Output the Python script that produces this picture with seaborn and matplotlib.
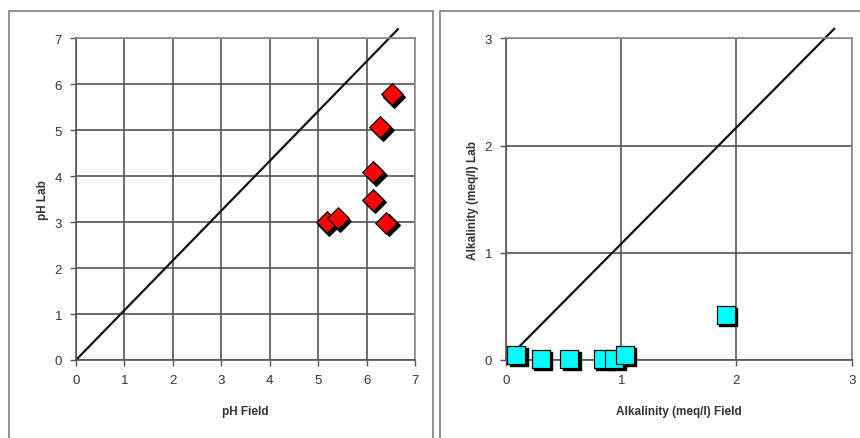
import matplotlib
matplotlib.use("Agg")
import matplotlib.pyplot as plt
import seaborn as sns
import pandas as pd
from matplotlib.patches import Rectangle
from matplotlib.transforms import ScaledTranslation

# ---- data ----
ph_field = [6.52, 6.28, 6.14, 6.13, 6.41, 5.18, 5.40]
ph_lab = [5.78, 5.06, 4.08, 3.48, 2.99, 3.00, 3.08]
ph_ticks = [0, 1, 2, 3, 4, 5, 6, 7]
ph_line_x = [0, 6.65]
ph_line_y = [0, 7.2]

alk_field = [0.09, 0.30, 0.55, 0.84, 0.94, 1.03, 1.91]
alk_lab = [0.05, 0.01, 0.01, 0.01, 0.01, 0.05, 0.42]
alk_ticks = [0, 1, 2, 3]
alk_line_x = [0, 2.85]
alk_line_y = [0, 3.09]

sns.set_style("white")
plt.rcParams['font.family'] = ['Liberation Sans', 'DejaVu Sans']

W, H = 860, 439
fig = plt.figure(figsize=(W / 100, H / 100), dpi=100, facecolor='white')

def px_axes(x0, x1, ytop, ybot):
    return fig.add_axes([x0 / W, 1 - ybot / H, (x1 - x0) / W, (ybot - ytop) / H])

ax1 = px_axes(76, 415, 39.3, 361)
ax2 = px_axes(506, 851.7, 39.3, 361)

# panel borders
for x0, x1 in [(9.3, 433.3), (440, 900)]:
    fig.add_artist(Rectangle((x0 / W, -0.1), (x1 - x0) / W, 1.1 - 11.7 / H,
                             transform=fig.transFigure, fill=False,
                             edgecolor='#888888', linewidth=1.3, zorder=0))

grid_col = '#555555'

def style(ax, ticks, xlabel, ylabel):
    ax.set_xlim(ticks[0], ticks[-1])
    ax.set_ylim(ticks[0], ticks[-1])
    ax.set_xticks(ticks)
    ax.set_yticks(ticks)
    ax.set_xticklabels([str(t) for t in ticks])
    ax.set_yticklabels([str(t) for t in ticks])
    ax.grid(True, color=grid_col, linewidth=1.2)
    ax.set_axisbelow(True)
    for s in ['top', 'right']:
        ax.spines[s].set_color('#8c8c8c')
        ax.spines[s].set_linewidth(1.2)
    for s in ['left', 'bottom']:
        ax.spines[s].set_color(grid_col)
        ax.spines[s].set_linewidth(1.2)
    ax.tick_params(axis='both', direction='out', length=4, width=1.0,
                   color=grid_col, labelsize=9.5, labelcolor='#333333', pad=6,
                   left=True, bottom=True)
    ax.set_xlabel(xlabel, fontsize=8.5, fontweight='bold', color='#333333', labelpad=14)
    ax.set_ylabel(ylabel, fontsize=8.5, fontweight='bold', color='#333333', labelpad=4)

def shadow_scatter(ax, x, y, marker, size, color):
    df = pd.DataFrame({'x': x, 'y': y})
    sns.scatterplot(data=df, x='x', y='y', ax=ax, marker=marker, s=size,
                    color='black', edgecolor='black', linewidth=1, zorder=3,
                    clip_on=False, legend=False)
    sh = ax.collections[-1]
    sh.set_offset_transform(ax.transData + ScaledTranslation(2.4 / 100, -2.4 / 100, fig.dpi_scale_trans))
    sns.scatterplot(data=df, x='x', y='y', ax=ax, marker=marker, s=size,
                    color=color, edgecolor='black', linewidth=0.9, zorder=4,
                    clip_on=False, legend=False)

# left panel
ax1.plot(ph_line_x, ph_line_y, color='#111111', linewidth=1.6, clip_on=False, zorder=2)
shadow_scatter(ax1, ph_field, ph_lab, 'D', 120, '#ff0000')
style(ax1, ph_ticks, 'pH Field', 'pH Lab')

# right panel
ax2.plot(alk_line_x, alk_line_y, color='#111111', linewidth=1.6, clip_on=False, zorder=2)
shadow_scatter(ax2, alk_field, alk_lab, 's', 170, '#00ffff')
style(ax2, alk_ticks, 'Alkalinity (meq/l) Field', 'Alkalinity (meq/l) Lab')

fig.savefig('out.png', dpi=100, facecolor='white')
